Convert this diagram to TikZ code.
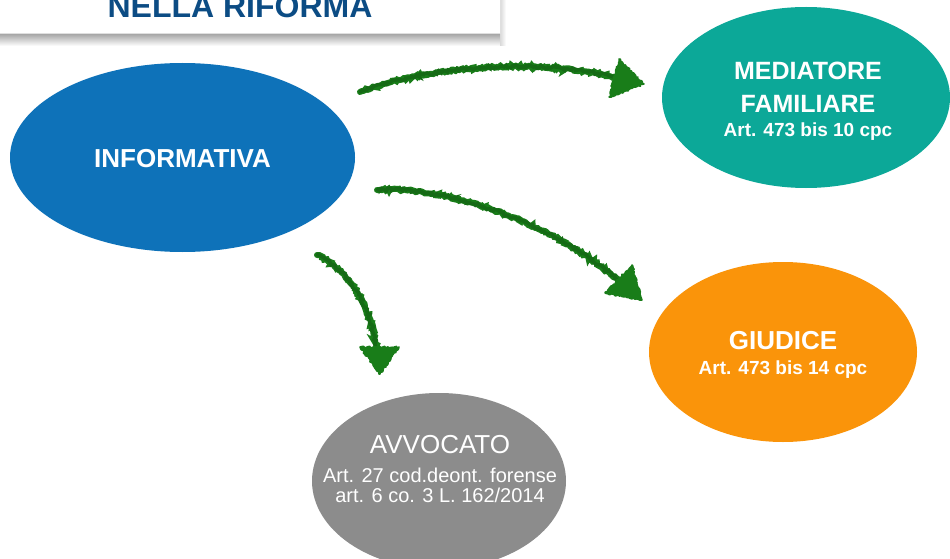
\documentclass[tikz,border=0pt]{standalone}
\usepackage{fontspec}
\setmainfont{Liberation Sans}
\usetikzlibrary{shapes.geometric,decorations.pathmorphing}
\definecolor{infoblue}{RGB}{14,114,185}
\definecolor{medteal}{RGB}{12,168,152}
\definecolor{giuorange}{RGB}{250,148,10}
\definecolor{avvgray}{RGB}{140,140,140}
\definecolor{chalkgreen}{RGB}{25,125,25}
\definecolor{titleblue}{RGB}{12,76,132}
\tikzset{
  ell/.style={ellipse, inner sep=0pt, draw=none},
  txt/.style={text=white, anchor=base, inner sep=0pt},
  shaft/.style={draw=chalkgreen, line width=6pt, line cap=round,
    decorate, decoration={random steps, segment length=1.5pt, amplitude=1pt}},
  shaftb/.style={draw=chalkgreen!85!black, line width=3.5pt, line cap=round,
    decorate, decoration={random steps, segment length=2pt, amplitude=1.4pt}},
  headtri/.style={fill=chalkgreen, draw=chalkgreen, line width=1.5pt, line join=round,
    decorate, decoration={random steps, segment length=1.5pt, amplitude=1pt}}
}
\begin{document}
\begin{tikzpicture}[x=1pt,y=-1pt]
\useasboundingbox (0,0) rectangle (950,559);
\clip (0,0) rectangle (950,559);
\fill[white] (0,0) rectangle (950,559);
% title box with shadow
\shade[top color=gray!75, bottom color=white] (-5,33) rectangle (500,46);
\shade[left color=gray!30, right color=white] (500,-5) rectangle (506,46);
\node[draw=gray!25, fill=white, minimum width=515pt, minimum height=60pt, inner sep=0pt] (titlebox) at (242.5,3) {};
\node[anchor=base, text=titleblue, inner sep=0pt, font=\fontsize{32}{36}\selectfont\bfseries] (title) at (240,18) {NELLA RIFORMA};
% ellipses
\node[ell, fill=infoblue, minimum width=345pt, minimum height=189pt] (info) at (182.5,157.5) {};
\node[ell, fill=medteal, minimum width=288pt, minimum height=181pt] (med) at (806,97.5) {};
\node[ell, fill=giuorange, minimum width=268pt, minimum height=180pt] (giu) at (783,352) {};
\node[ell, fill=avvgray, minimum width=254pt, minimum height=176pt] (avv) at (439,481) {};
% texts
\node[txt, font=\fontsize{26}{30}\selectfont\bfseries] (infot) at (182.5,167) {INFORMATIVA};
\node[txt, font=\fontsize{25}{30}\selectfont\bfseries] (medt1) at (808,80) {MEDIATORE};
\node[txt, font=\fontsize{25}{30}\selectfont\bfseries] (medt2) at (808,113) {FAMILIARE};
\node[txt, font=\fontsize{19}{22}\selectfont\bfseries] (medt3) at (808,137) {Art. 473 bis 10 cpc};
\node[txt, font=\fontsize{26}{30}\selectfont\bfseries] (giut1) at (783,349) {GIUDICE};
\node[txt, font=\fontsize{19}{22}\selectfont\bfseries] (giut2) at (783,374) {Art. 473 bis 14 cpc};
\node[txt, font=\fontsize{26}{30}\selectfont] (avvt1) at (440,453) {AVVOCATO};
\node[txt, font=\fontsize{20}{24}\selectfont] (avvt2) at (440,482) {Art. 27 cod.deont. forense};
\node[txt, font=\fontsize{20}{24}\selectfont] (avvt3) at (440,502) {art. 6 co. 3 L. 162/2014};
% connector endpoints
\coordinate (s1) at (360,92);
\coordinate (e1) at (618,78);
\coordinate (s2) at (377,190);
\coordinate (e2) at (620,282);
\coordinate (s3) at (317,255);
\coordinate (e3) at (377,350);
% arrow 1
\draw[shaft] (s1) .. controls (430,65) and (540,58) .. (e1);
\draw[shaftb] (s1) .. controls (430,65) and (540,58) .. (e1);
\path[headtri] (619,59) -- (644,84) -- (609,97) -- cycle;
% arrow 2
\draw[shaft] (s2) .. controls (440,185) and (550,220) .. (e2);
\draw[shaftb] (s2) .. controls (440,185) and (550,220) .. (e2);
\path[headtri] (632,265) -- (642,300) -- (605,293) -- cycle;
% arrow 3
\draw[shaft] (s3) .. controls (345,268) and (370,300) .. (e3);
\draw[shaftb] (s3) .. controls (345,268) and (370,300) .. (e3);
\path[headtri] (360,347) -- (399,347) -- (380,374) -- cycle;
\end{tikzpicture}
\end{document}
